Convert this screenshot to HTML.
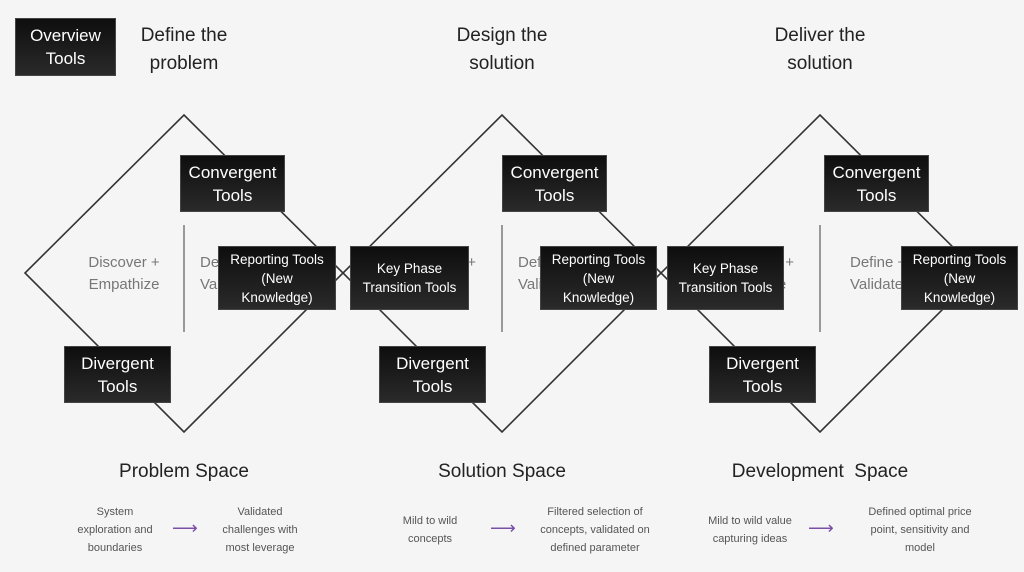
<!DOCTYPE html>
<html><head><style>
body{margin:0;width:1024px;height:572px;background:#f5f5f5;position:relative;overflow:hidden;font-family:"Liberation Sans",sans-serif}
.b{position:absolute;background:linear-gradient(#0e0e0e,#2a2a2a);color:#fff;display:flex;align-items:center;justify-content:center;text-align:center;box-sizing:border-box;border:1px solid #444}
.c{font-size:17px;line-height:23px}
.r{font-size:13.5px;line-height:19px}
.t{position:absolute;text-align:center;color:#222;font-size:19px;line-height:28px}
.g{position:absolute;text-align:center;color:#777;font-size:15px;line-height:22px}
.s{position:absolute;text-align:center;color:#555;font-size:11px;line-height:18px}
.a{position:absolute;color:#7a4fa8;font-size:18px}
</style></head><body>
<svg width="1024" height="572" style="position:absolute;left:0;top:0">
<g fill="none" stroke="#333" stroke-width="1.6">
<polygon points="184,115 343,273 184,432 25,273"/>
<polygon points="502,115 661,273 502,432 343,273"/>
<polygon points="820,115 979,273 820,432 661,273"/>
</g>
<g stroke="#999" stroke-width="2">
<line x1="184" y1="225" x2="184" y2="332"/>
<line x1="502" y1="225" x2="502" y2="332"/>
<line x1="820" y1="225" x2="820" y2="332"/>
</g>
</svg>
<div class="g" style="left:64px;top:252px;width:120px">Discover +<br>Empathize</div>
<div class="g" style="left:200px;top:252px;width:60px;text-align:left">Define +<br>Validate</div>
<div class="g" style="left:382px;top:252px;width:120px">Develop +<br>Ideatize</div>
<div class="g" style="left:518px;top:252px;width:60px;text-align:left">Define +<br>Validate</div>
<div class="g" style="left:700px;top:252px;width:120px">Develop +<br>Ideatize</div>
<div class="g" style="left:850px;top:252px;width:70px;text-align:left">Define +<br>Validate</div>

<div class="b c" style="left:15px;top:18px;width:101px;height:58px">Overview<br>Tools</div>
<div class="t" style="left:104px;top:22px;width:160px">Define the<br>problem</div>
<div class="t" style="left:422px;top:22px;width:160px">Design the<br>solution</div>
<div class="t" style="left:740px;top:22px;width:160px">Deliver the<br>solution</div>

<div class="b c" style="left:180px;top:155px;width:105px;height:57px">Convergent<br>Tools</div>
<div class="b r" style="left:218px;top:246px;width:118px;height:64px">Reporting Tools<br>(New<br>Knowledge)</div>
<div class="b r" style="left:350px;top:246px;width:119px;height:64px">Key Phase<br>Transition Tools</div>
<div class="b c" style="left:64px;top:346px;width:107px;height:57px">Divergent<br>Tools</div>

<div class="b c" style="left:502px;top:155px;width:105px;height:57px">Convergent<br>Tools</div>
<div class="b r" style="left:540px;top:246px;width:117px;height:64px">Reporting Tools<br>(New<br>Knowledge)</div>
<div class="b r" style="left:667px;top:246px;width:117px;height:64px">Key Phase<br>Transition Tools</div>
<div class="b c" style="left:379px;top:346px;width:107px;height:57px">Divergent<br>Tools</div>

<div class="b c" style="left:824px;top:155px;width:105px;height:57px">Convergent<br>Tools</div>
<div class="b r" style="left:901px;top:246px;width:117px;height:64px">Reporting Tools<br>(New<br>Knowledge)</div>
<div class="b c" style="left:709px;top:346px;width:107px;height:57px">Divergent<br>Tools</div>

<div class="t" style="left:84px;top:458px;width:200px">Problem Space</div>
<div class="t" style="left:402px;top:458px;width:200px">Solution Space</div>
<div class="t" style="left:700px;top:458px;width:240px">Development&nbsp; Space</div>

<div class="s" style="left:60px;top:503px;width:110px">System<br>exploration and<br>boundaries</div>
<div class="a" style="left:172px;top:518px">⟶</div>
<div class="s" style="left:205px;top:503px;width:110px">Validated<br>challenges with<br>most leverage</div>

<div class="s" style="left:385px;top:512px;width:90px">Mild to wild<br>concepts</div>
<div class="a" style="left:490px;top:518px">⟶</div>
<div class="s" style="left:520px;top:503px;width:150px">Filtered selection of<br>concepts, validated on<br>defined parameter</div>

<div class="s" style="left:690px;top:512px;width:120px">Mild to wild value<br>capturing ideas</div>
<div class="a" style="left:808px;top:518px">⟶</div>
<div class="s" style="left:845px;top:503px;width:150px">Defined optimal price<br>point, sensitivity and<br>model</div>
</body></html>
